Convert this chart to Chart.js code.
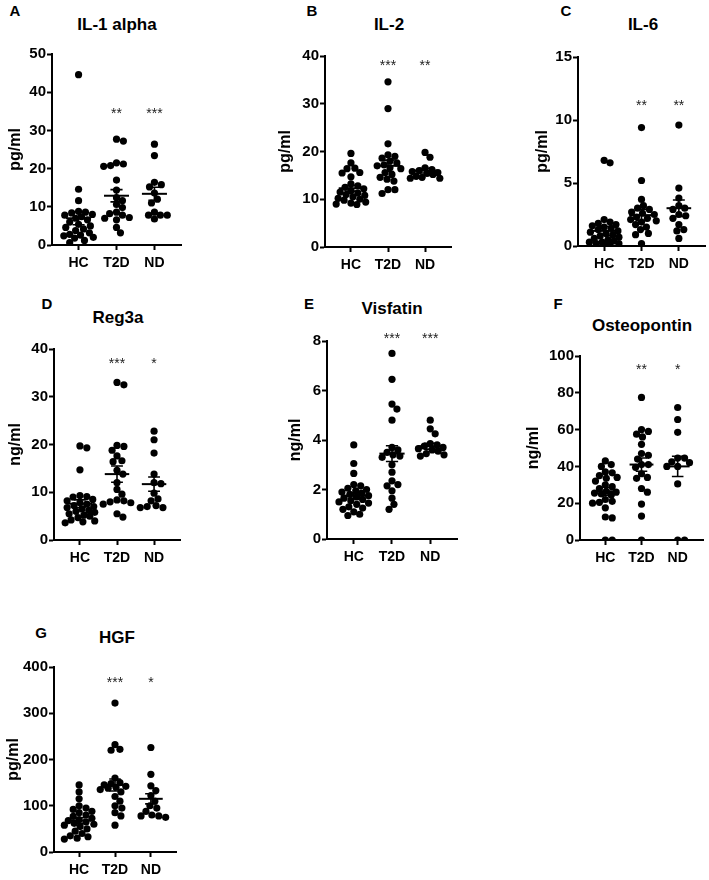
<!DOCTYPE html>
<html>
<head>
<meta charset="utf-8">
<script src="https://cdn.jsdelivr.net/npm/chart.js@4.4.0/dist/chart.umd.min.js"></script>
<style>
  body { margin: 0; background: #fff; width: 709px; height: 880px; position: relative; overflow: hidden;
         font-family: "Liberation Sans", Arial, sans-serif; }
  .panel { position: absolute; }
  .lbl { position: absolute; font-weight: bold; color: #000; white-space: nowrap; transform: translate(-50%, -50%); }
</style>
</head>
<body>
<script>
const groups = ['HC', 'T2D', 'ND'];

// A - IL-1 alpha (pg/ml)
const il1aHC = [44.6, 14.6, 11.6, 8.8, 8.6, 8.4, 8.0, 7.8, 7.4, 7.0, 6.6, 6.0, 5.4, 5.0, 4.6, 4.2, 3.8, 3.2, 2.8, 2.6, 2.4, 2.0, 1.8, 1.2, 0.6];
const il1aT2D = [27.7, 27.2, 21.5, 21.2, 20.8, 20.6, 17.0, 14.4, 12.4, 11.6, 10.6, 9.8, 8.6, 8.2, 7.8, 7.2, 7.0, 6.6, 4.6, 3.2];
const il1aND = [26.4, 23.4, 16.4, 15.8, 15.2, 13.6, 12.0, 11.0, 8.6, 7.8, 7.8, 7.8, 6.8];
const il1aMean = [7.0, 12.9, 13.4];
const il1aSem = [1.7, 1.6, 1.7];
const il1aSig = ['', '**', '***'];
const il1aTicks = [0, 10, 20, 30, 40, 50];

// B - IL-2 (pg/ml)
const il2HC = [19.6, 17.6, 16.5, 16.4, 15.6, 15.5, 14.7, 13.2, 12.8, 12.5, 12.2, 11.8, 11.5, 11.3, 11.0, 10.8, 10.5, 10.2, 10.0, 9.8, 9.4, 9.2, 9.0, 8.9];
const il2T2D = [34.6, 29.0, 21.6, 19.3, 19.0, 18.6, 18.0, 17.6, 17.2, 17.0, 16.6, 16.4, 15.6, 15.2, 14.6, 14.2, 13.8, 12.0, 12.0, 11.2];
const il2ND = [19.8, 18.8, 16.6, 16.2, 16.0, 15.8, 15.6, 15.4, 15.2, 14.8, 14.6, 14.4, 14.4];
const il2Mean = [12.3, 17.0, 16.0];
const il2Sem = [0.6, 1.2, 0.5];
const il2Sig = ['', '***', '**'];
const il2Ticks = [0, 10, 20, 30, 40];

// C - IL-6 (pg/ml)
const il6HC = [6.8, 6.6, 2.1, 1.9, 1.8, 1.7, 1.6, 1.5, 1.4, 1.3, 1.2, 1.1, 1.0, 0.9, 0.8, 0.7, 0.6, 0.5, 0.4, 0.3, 0.3, 0.2, 0.2, 0.1, 0.1];
const il6T2D = [9.4, 5.2, 3.7, 3.2, 3.0, 2.9, 2.7, 2.6, 2.5, 2.3, 2.2, 2.1, 2.0, 1.9, 1.7, 1.5, 1.3, 1.0, 0.9, 0.2];
const il6ND = [9.6, 4.6, 3.8, 3.2, 3.0, 2.9, 2.5, 2.4, 2.2, 1.7, 1.3, 1.2, 0.6];
const il6Mean = [1.2, 2.45, 3.0];
const il6Sem = [0.35, 0.45, 0.65];
const il6Sig = ['', '**', '**'];
const il6Ticks = [0, 5, 10, 15];

// D - Reg3a (ng/ml)
const reg3aHC = [19.7, 19.3, 14.7, 9.3, 9.1, 9.0, 8.5, 8.2, 7.8, 7.5, 7.2, 7.0, 6.8, 6.5, 6.2, 6.0, 5.8, 5.5, 5.2, 5.0, 4.7, 4.2, 4.0, 3.8, 3.6];
const reg3aT2D = [33.0, 32.5, 19.8, 19.6, 18.8, 17.6, 16.6, 16.4, 14.6, 13.8, 12.0, 10.6, 9.6, 8.4, 8.2, 8.0, 7.8, 7.5, 5.5, 4.8];
const reg3aND = [22.8, 21.0, 18.2, 13.8, 12.0, 11.8, 9.8, 8.6, 8.2, 7.2, 7.0, 6.8, 6.8];
const reg3aMean = [7.6, 13.8, 11.7];
const reg3aSem = [0.8, 1.7, 1.5];
const reg3aSig = ['', '***', '*'];
const reg3aTicks = [0, 10, 20, 30, 40];

// E - Visfatin (ng/ml)
const visHC = [3.8, 3.05, 2.65, 2.2, 2.15, 2.05, 2.0, 1.95, 1.9, 1.85, 1.8, 1.75, 1.7, 1.65, 1.6, 1.55, 1.5, 1.45, 1.4, 1.3, 1.25, 1.2, 1.1, 1.0, 0.95];
const visT2D = [7.5, 6.45, 5.45, 5.25, 4.8, 3.7, 3.6, 3.5, 3.4, 3.35, 3.3, 3.0, 2.7, 2.35, 2.2, 2.15, 1.95, 1.65, 1.4, 1.2];
const visND = [4.8, 4.45, 4.25, 3.85, 3.8, 3.75, 3.7, 3.65, 3.6, 3.55, 3.45, 3.4, 3.35];
const visMean = [1.75, 3.45, 3.75];
const visSem = [0.12, 0.32, 0.12];
const visSig = ['', '***', '***'];
const visTicks = [0, 2, 4, 6, 8];

// F - Osteopontin (ng/ml)
const opnHC = [43, 41, 40, 37, 36.5, 35, 34, 33.5, 32, 30, 29, 28, 26.5, 26, 25.5, 25, 24.5, 22, 21, 20.5, 20, 17.5, 12.5, 12, 0, 0];
const opnT2D = [77.5, 60, 59, 57.5, 56, 52, 47, 46, 44, 41, 41, 39.5, 36, 34, 33.5, 28, 26, 19.5, 13, 0];
const opnND = [72, 65.5, 58.5, 44.5, 44.5, 42.5, 42, 40, 40, 30.5, 0, 0];
const opnMean = [26.5, 41, 40];
const opnSem = [2.2, 3.6, 5.5];
const opnSig = ['', '**', '*'];
const opnTicks = [0, 20, 40, 60, 80, 100];

// G - HGF (pg/ml)
const hgfHC = [145, 130, 115, 100, 95, 92, 88, 85, 80, 77, 73, 70, 68, 65, 62, 60, 58, 55, 50, 45, 40, 35, 33, 30, 28];
const hgfT2D = [322, 232, 222, 220, 160, 150, 148, 145, 142, 140, 138, 135, 130, 120, 110, 100, 95, 85, 78, 58];
const hgfND = [226, 168, 143, 133, 122, 110, 100, 95, 88, 80, 78, 78, 75];
const hgfMean = [68, 145, 115];
const hgfSem = [6, 13, 11];
const hgfSig = ['', '***', '*'];
const hgfTicks = [0, 100, 200, 300, 400];

const FONT = '"Liberation Sans", Arial, sans-serif';
const X_MIN = 0.3, X_MAX = 3.7;
const DOT_R = 3.6;

// layout of each panel on the page (pixels) + where the stars sit (data units)
const panels = [
  { letter: 'A', title: 'IL-1 alpha', unit: 'pg/ml', values: [il1aHC, il1aT2D, il1aND], mean: il1aMean, sem: il1aSem, sig: il1aSig, ticks: il1aTicks,
    ax: 52, ar: 183, yt: 54, yb: 245, tx: 15, starY: 35, lx: 15, ly: 10, hx: 117, hy: 25 },
  { letter: 'B', title: 'IL-2', unit: 'pg/ml', values: [il2HC, il2T2D, il2ND], mean: il2Mean, sem: il2Sem, sig: il2Sig, ticks: il2Ticks,
    ax: 325, ar: 453, yt: 56, yb: 247, tx: 285, starY: 38.5, lx: 312, ly: 10, hx: 389, hy: 25 },
  { letter: 'C', title: 'IL-6', unit: 'pg/ml', values: [il6HC, il6T2D, il6ND], mean: il6Mean, sem: il6Sem, sig: il6Sig, ticks: il6Ticks,
    ax: 578, ar: 707, yt: 57, yb: 246, tx: 542, starY: 11.3, lx: 566, ly: 10, hx: 643, hy: 25 },
  { letter: 'D', title: 'Reg3a', unit: 'ng/ml', values: [reg3aHC, reg3aT2D, reg3aND], mean: reg3aMean, sem: reg3aSem, sig: reg3aSig, ticks: reg3aTicks,
    ax: 54, ar: 182, yt: 349, yb: 540, tx: 15, starY: 37.5, lx: 47, ly: 303, hx: 118, hy: 318 },
  { letter: 'E', title: 'Visfatin', unit: 'ng/ml', values: [visHC, visT2D, visND], mean: visMean, sem: visSem, sig: visSig, ticks: visTicks,
    ax: 327, ar: 459, yt: 341, yb: 539, tx: 295, starY: 8.2, lx: 309, ly: 303, hx: 392, hy: 309 },
  { letter: 'F', title: 'Osteopontin', unit: 'ng/ml', values: [opnHC, opnT2D, opnND], mean: opnMean, sem: opnSem, sig: opnSig, ticks: opnTicks,
    ax: 580, ar: 705, yt: 356, yb: 540, tx: 533, starY: 94, lx: 558, ly: 303, hx: 642, hy: 326 },
  { letter: 'G', title: 'HGF', unit: 'pg/ml', values: [hgfHC, hgfT2D, hgfND], mean: hgfMean, sem: hgfSem, sig: hgfSig, ticks: hgfTicks,
    ax: 54, ar: 178, yt: 667, yb: 852, tx: 13, starY: 372, lx: 41, ly: 632, hx: 117, hy: 638 }
];

// simple beeswarm: spread dots sideways so they don't pile up
function swarm(vals, pxPerY, pxPerX) {
  const order = vals.map((v, i) => i).sort((a, b) => vals[b] - vals[a]);
  const placed = [];
  const offs = new Array(vals.length).fill(0);
  const maxW = 15;
  for (const i of order) {
    const y = vals[i] * pxPerY;
    let best = 0, bestD = -1;
    for (let k = 0; k <= maxW * 2; k++) {
      const dx = (k % 2 ? 1 : -1) * Math.ceil(k / 2);
      let minD = Infinity;
      for (const p of placed) {
        const d = Math.hypot(p.x - dx, p.y - y);
        if (d < minD) minD = d;
      }
      if (minD >= DOT_R * 1.8) { best = dx; bestD = minD; break; }
      if (minD > bestD) { bestD = minD; best = dx; }
    }
    placed.push({ x: best, y });
    offs[i] = best / pxPerX;
  }
  return offs;
}

function addText(cls, text, x, y, size) {
  const d = document.createElement('div');
  d.className = cls;
  d.textContent = text;
  d.style.left = x + 'px';
  d.style.top = y + 'px';
  d.style.fontSize = size + 'px';
  document.body.appendChild(d);
}

function makePanel(p) {
  const padTop = 12, xH = 34, padRight = 2;
  const left = p.tx - 9;
  const yW = p.ax - left;
  const W = yW + (p.ar - p.ax) + padRight;
  const H = padTop + (p.yb - p.yt) + xH;
  const yMax = p.ticks[p.ticks.length - 1];

  const wrap = document.createElement('div');
  wrap.className = 'panel';
  wrap.style.left = left + 'px';
  wrap.style.top = (p.yt - padTop) + 'px';
  const cv = document.createElement('canvas');
  cv.width = W; cv.height = H;
  wrap.appendChild(cv);
  document.body.appendChild(wrap);

  addText('lbl', p.letter, p.lx, p.ly, 15);
  addText('lbl', p.title, p.hx, p.hy, 17);

  const pxPerY = (p.yb - p.yt) / yMax;
  const pxPerX = (p.ar - p.ax) / (X_MAX - X_MIN);

  const datasets = [];
  p.values.forEach((vals, g) => {
    const offs = swarm(vals, pxPerY, pxPerX);
    datasets.push({
      data: vals.map((v, i) => ({ x: g + 1 + offs[i], y: v })),
      pointRadius: DOT_R, pointBackgroundColor: '#000', pointBorderWidth: 0, showLine: false
    });
  });
  p.mean.forEach((m, g) => {
    const c = g + 1;
    datasets.push({
      data: [{ x: c - 0.33, y: m }, { x: c + 0.33, y: m }],
      showLine: true, borderColor: '#000', borderWidth: 2, pointRadius: 0
    });
    const lo = m - p.sem[g], hi = m + p.sem[g];
    datasets.push({
      data: [{ x: c - 0.16, y: lo }, { x: c + 0.16, y: lo }, { x: c, y: lo }, { x: c, y: hi },
             { x: c - 0.16, y: hi }, { x: c + 0.16, y: hi }],
      showLine: true, borderColor: '#000', borderWidth: 1.6, pointRadius: 0
    });
  });

  const starPlugin = {
    id: 'stars',
    afterDatasetsDraw(chart) {
      const ctx = chart.ctx;
      ctx.save();
      ctx.fillStyle = '#222';
      ctx.font = '14px ' + FONT;
      ctx.textAlign = 'center';
      ctx.textBaseline = 'middle';
      p.sig.forEach((s, g) => {
        if (!s) return;
        ctx.fillText(s, chart.scales.x.getPixelForValue(g + 1), chart.scales.y.getPixelForValue(p.starY) + 3);
      });
      ctx.restore();
    }
  };

  new Chart(cv, {
    type: 'scatter',
    data: { datasets },
    plugins: [starPlugin],
    options: {
      responsive: false,
      animation: false,
      layout: { padding: { top: padTop, right: padRight, left: 0, bottom: 0 } },
      plugins: { legend: { display: false }, tooltip: { enabled: false } },
      scales: {
        x: {
          type: 'linear', min: X_MIN, max: X_MAX,
          afterBuildTicks: s => { s.ticks = [1, 2, 3].map(v => ({ value: v })); },
          afterFit: s => { s.height = xH; },
          border: { display: true, color: '#000', width: 2 },
          grid: { display: true, drawOnChartArea: false, drawTicks: true, tickLength: 5, tickWidth: 2, tickColor: '#000' },
          ticks: { color: '#000', padding: 5, font: { family: FONT, size: 14, weight: 'bold' },
                   callback: v => groups[v - 1] }
        },
        y: {
          type: 'linear', min: 0, max: yMax,
          afterBuildTicks: s => { s.ticks = p.ticks.map(v => ({ value: v })); },
          afterFit: s => { s.width = yW; },
          border: { display: true, color: '#000', width: 2 },
          grid: { display: true, drawOnChartArea: false, drawTicks: true, tickLength: 5, tickWidth: 2, tickColor: '#000' },
          ticks: { color: '#000', padding: 1, font: { family: FONT, size: 15, weight: 'bold' } },
          title: { display: true, text: p.unit, color: '#000', padding: 0,
                   font: { family: FONT, size: 16, weight: 'bold' } }
        }
      }
    }
  });
}

panels.forEach(makePanel);
</script>
</body>
</html>
